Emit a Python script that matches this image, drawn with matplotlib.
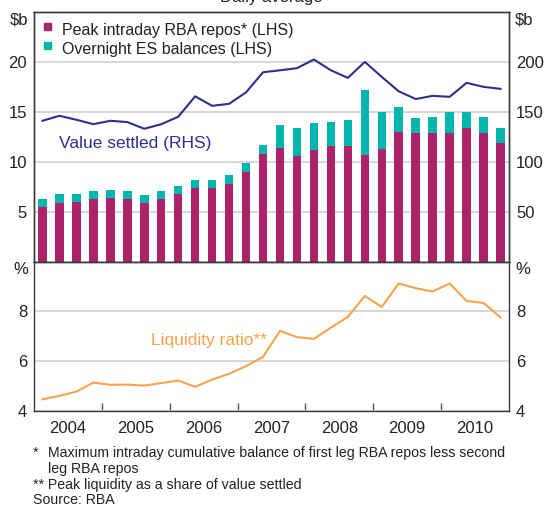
import matplotlib
matplotlib.use('Agg')
import matplotlib.pyplot as plt
import pandas as pd
from matplotlib.patches import Rectangle

plt.rcParams['font.family'] = ['Liberation Sans', 'DejaVu Sans']

# Quarterly data, daily averages
quarters = pd.period_range('2004Q1', '2010Q4', freq='Q')
peak_repos = [5.44, 5.84, 5.94, 6.24, 6.34, 6.24, 5.84, 6.24, 6.75, 7.35, 7.35, 7.75, 8.96, 10.8,
              11.4, 10.6, 11.2, 11.6, 11.6, 10.7, 11.3, 13.0, 12.9, 12.9, 12.9, 13.4, 12.9, 11.9]
es_balances = [0.8, 0.9, 0.8, 0.8, 0.8, 0.8, 0.8, 0.8, 0.8, 0.8, 0.8, 0.9, 0.9, 0.9,
               2.3, 2.8, 2.7, 2.4, 2.6, 6.45, 3.7, 2.5, 1.5, 1.6, 2.1, 1.6, 1.6, 1.5]
value_settled = [141, 146, 142, 137.6, 141, 139.7, 133, 137.6, 145, 165.5, 156, 158, 169.5, 189.6,
                 191.6, 193.7, 202.4, 191.6, 184, 200, 185, 170.5, 162.8, 166, 165, 179, 175, 173]
liquidity_ratio = [4.48, 4.62, 4.79, 5.15, 5.06, 5.07, 5.03, 5.13, 5.23, 4.98, 5.27, 5.50, 5.81, 6.18,
                   7.22, 6.97, 6.90, 7.35, 7.78, 8.62, 8.18, 9.12, 8.93, 8.80, 9.12, 8.42, 8.34, 7.76]
years = [2004, 2005, 2006, 2007, 2008, 2009, 2010]

MAGENTA = '#ab2369'
TEAL = '#00b6ae'
NAVY = '#2f2f8c'
ORANGE = '#f8a24c'
SPINE = '#3a3a3a'
GRID = '#cfcfcf'
TXT = '#222222'
FS = 12

x = [q.year + (q.quarter - 0.5) / 4 for q in quarters]

fig = plt.figure(figsize=(5.46, 5.05), dpi=100)
W, H = 546, 505
L, R = 34 / W, 509 / W
ax1 = fig.add_axes([L, 1 - 261.5 / H, R - L, (261.5 - 12) / H])
ax3 = fig.add_axes([L, 1 - 411.3 / H, R - L, (411.3 - 261.5) / H])

# --- top panel ---
ax1.bar(x, peak_repos, width=0.125, color=MAGENTA, zorder=2)
ax1.bar(x, es_balances, width=0.125, bottom=peak_repos, color=TEAL, zorder=2)
ax1.set_xlim(2004, 2011)
ax1.set_ylim(0, 25)
ax1.set_yticks([5, 10, 15, 20])
ax1.grid(axis='y', color=GRID, lw=1.2, zorder=0)
ax1.set_axisbelow(True)
ax1.set_xticks([])

ax2 = ax1.twinx()
ax2.plot(x, value_settled, color=NAVY, lw=1.5, zorder=3)
ax2.set_ylim(0, 250)
ax2.set_yticks([50, 100, 150, 200])
ax2.set_xlim(2004, 2011)

ax1.text(-0.012, (261.5 - 20) / 249.5, '$b', transform=ax1.transAxes, ha='right', va='center',
         fontsize=FS, color=TXT)
ax1.text(1.013, (261.5 - 20) / 249.5, '$b', transform=ax1.transAxes, ha='left', va='center',
         fontsize=FS, color=TXT)

# legend squares + labels
for i, (lab, col) in enumerate([('Peak intraday RBA repos* (LHS)', MAGENTA),
                                ('Overnight ES balances (LHS)', TEAL)]):
    top = 23 + i * 19.5
    ax1.add_patch(Rectangle(((44 - 34) / 475, (261.5 - top - 6.5) / 249.5), 6.5 / 475, 6.5 / 249.5,
                            transform=ax1.transAxes, color=col, clip_on=False, zorder=4))
    ax1.text((62 - 34) / 475, (261.5 - (35 + i * 19.3)) / 249.5, lab, transform=ax1.transAxes,
             ha='left', va='baseline', fontsize=11.5, color=TXT)

ax1.text((59 - 34) / 475, (261.5 - 148.3) / 249.5, 'Value settled (RHS)', transform=ax1.transAxes,
         ha='left', va='baseline', fontsize=12.5, color=NAVY)

# --- bottom panel ---
ax3.plot(x, liquidity_ratio, color=ORANGE, lw=1.5, zorder=3)
ax3.set_xlim(2004, 2011)
ax3.set_ylim(4, 10)
ax3.set_yticks([4, 6, 8])
ax3.grid(axis='y', color=GRID, lw=1.2, zorder=0)
ax3.set_xticks(years[1:])
ax3.set_xticklabels([])
ax3.set_xticks([yr + 0.5 for yr in years], minor=True)
ax3.set_xticklabels([str(yr) for yr in years], minor=True)
ax3.tick_params(axis='x', which='major', direction='in', length=6, width=1, color='#555555')
ax3.tick_params(axis='x', which='minor', length=0, pad=7, labelsize=FS, labelcolor=TXT)
ax3.tick_params(axis='y', labelright=True, right=False)

ax3.text(-0.012, (411.3 - 270) / 149.8, '%', transform=ax3.transAxes, ha='right', va='center',
         fontsize=FS, color=TXT)
ax3.text(1.013, (411.3 - 270) / 149.8, '%', transform=ax3.transAxes, ha='left', va='center',
         fontsize=FS, color=TXT)
ax3.text((151 - 34) / 475, (411.3 - 345) / 149.8, 'Liquidity ratio**', transform=ax3.transAxes,
         ha='left', va='baseline', fontsize=12.5, color=ORANGE)

for a in (ax1, ax2, ax3):
    for s in a.spines.values():
        s.set_color(SPINE)
        s.set_linewidth(1.0)
    a.tick_params(axis='y', length=0, pad=5, labelsize=FS, labelcolor=TXT)

# title sits mostly above the canvas, as in the original crop
fig.text(271.5 / W, 1 - 1.6 / H, 'Daily average', ha='center', va='baseline', fontsize=FS, color=TXT)

notes = [(33, 457, '*'),
         (48, 457, 'Maximum intraday cumulative balance of first leg RBA repos less second'),
         (48, 473, 'leg RBA repos'),
         (33, 489, '** Peak liquidity as a share of value settled'),
         (33, 503.5, 'Source: RBA')]
for px, py, t in notes:
    fig.text(px / W, 1 - py / H, t, ha='left', va='baseline', fontsize=10.2, color=TXT)

fig.savefig('out.png', dpi=100)
plt.close(fig)
